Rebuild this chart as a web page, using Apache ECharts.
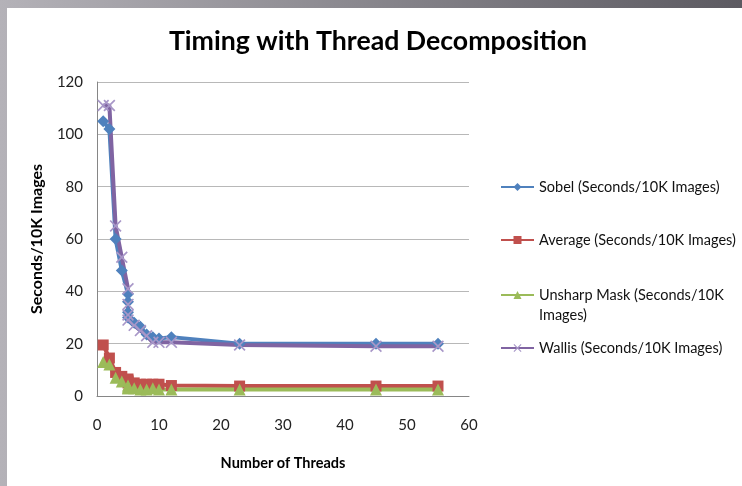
<html>
<head>
<meta charset="UTF-8">
<script src="https://cdn.jsdelivr.net/npm/echarts@6/dist/echarts.min.js"></script>
<style type="text/css">
body{margin:0;}
#wrap{position:relative;width:742px;height:486px;background:linear-gradient(to right,#b4b2b8,#5c5a61);}
#paper{position:absolute;left:7px;top:8px;right:0;bottom:0;background:#fff;}
#chart{position:absolute;left:0;top:0;width:742px;height:486px;}
</style>
</head>
<body>
<div id="wrap">
	<div id="paper"></div>
	<div id="chart"></div>
</div>
<script type="text/javascript">
var threads=[1,2,3,4,5,5,5,5,6,7,8,9,10,12,23,45,55];//线程数
var sobel=[105,102,60,48,39,36,32,30,28,26.5,23.5,22.5,22,22.5,20,20,20];
var average=[19.5,14.5,9,7.5,6.5,6,5.5,5,5,4.5,4.5,4.5,4.5,4,3.8,3.8,3.8];
var unsharp=[13,12,7,5.5,4,3.5,3,3,3,2.5,2.5,3,2.5,2.5,2.5,2.5,2.5];
var wallis=[111,111,65,53,41,35,31,29,27,25,23,20.5,20.5,20.5,19.5,19,19];
var names=["Sobel (Seconds/10K Images)","Average (Seconds/10K Images)","Unsharp Mask (Seconds/10K Images)","Wallis (Seconds/10K Images)"];
var yTicks=[0,20,40,60,80,100,120];
var xTicks=[0,10,20,30,40,50,60];

var font="Lato";
var xMark='path://M0,1L1,0L5,4L9,0L10,1L6,5L10,9L9,10L5,6L1,10L0,9L4,5Z';

function pairs(arr){
	var out=[];
	for(var i=0;i<arr.length;i++){
		out.push([threads[i],arr[i]]);
	}
	return out;
}
function makeSeries(name,arr,color,symbol,size,symColor){
	return {
		name:name,type:'line',data:pairs(arr),
		symbol:symbol,symbolSize:size,showSymbol:true,
		lineStyle:{width:4,color:color},
		itemStyle:{color:symColor||color},
		emphasis:{disabled:true},
		animation:false
	};
}
function makeLegend(name,top){
	return {
		data:[name],left:500,top:top,orient:'vertical',padding:0,
		itemWidth:33,itemHeight:10,itemGap:0,
		textStyle:{fontFamily:font,fontSize:14.5,color:'#111',lineHeight:20},
		formatter:function(n){
			//第一行留空,让图标对齐第二行
			return n=="Unsharp Mask (Seconds/10K Images)"?"\nUnsharp Mask (Seconds/10K\nImages)":n;
		}
	};
}

var myChart=echarts.init(document.getElementById("chart"));
var option={
	backgroundColor:'transparent',
	title:{
		text:'Timing with Thread Decomposition',left:373,top:23,textAlign:'center',
		textStyle:{fontFamily:font,fontSize:26.7,fontWeight:'bold',color:'#000'}
	},
	legend:[
		makeLegend(names[0],177),
		makeLegend(names[1],230),
		makeLegend(names[2],265),
		makeLegend(names[3],338)
	],
	grid:{left:97,right:273,top:82,bottom:90},
	xAxis:{
		type:'value',min:xTicks[0],max:xTicks[xTicks.length-1],interval:10,
		name:'Number of Threads',nameLocation:'middle',nameGap:60,
		nameTextStyle:{fontFamily:font,fontSize:14.5,fontWeight:'bold',color:'#000'},
		axisLine:{lineStyle:{color:'#868686',width:1}},
		axisTick:{show:false},
		axisLabel:{margin:22,fontFamily:font,fontSize:15,color:'#222'},
		splitLine:{show:false}
	},
	yAxis:{
		type:'value',min:yTicks[0],max:yTicks[yTicks.length-1],interval:20,
		name:'Seconds/10K Images',nameLocation:'middle',nameGap:52,
		nameTextStyle:{fontFamily:font,fontSize:16,fontWeight:'bold',color:'#000'},
		axisLine:{show:true,lineStyle:{color:'#868686',width:1}},
		axisTick:{show:false},
		axisLabel:{margin:14,fontFamily:font,fontSize:15,color:'#222'},
		splitLine:{lineStyle:{color:'#b8b8b8',width:1}}
	},
	series:[
		makeSeries(names[0],sobel,'#4F81BD','diamond',12),
		makeSeries(names[1],average,'#C0504D','rect',11),
		makeSeries(names[2],unsharp,'#9BBB59','triangle',12),
		makeSeries(names[3],wallis,'#8064A2',xMark,12,'#A897C8')
	]
};
myChart.setOption(option);
</script>
</body>
</html>
